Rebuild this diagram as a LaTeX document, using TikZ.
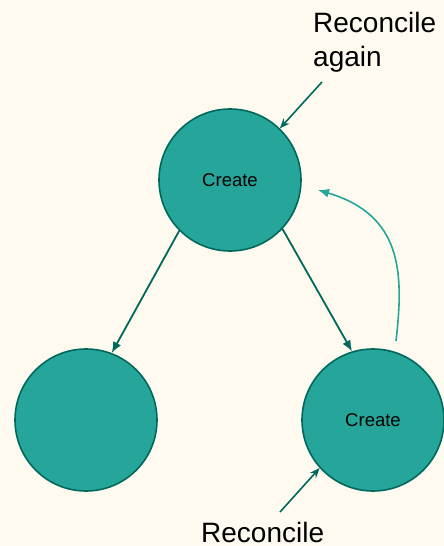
\documentclass[tikz,border=0pt]{standalone}
\usepackage{fontspec}
\setmainfont{Liberation Sans}
\usetikzlibrary{arrows.meta}
\definecolor{bg}{HTML}{FEFAEF}
\definecolor{tealfill}{HTML}{26A69A}
\definecolor{tealdark}{HTML}{00695C}
\tikzset{
  state/.style={circle, draw=tealdark, fill=tealfill, line width=1.6pt,
    minimum size=142pt, inner sep=0pt, font=\fontsize{18.5}{22}\selectfont},
  flow/.style={draw=tealdark, line width=1.8pt,
    -{Latex[length=11pt,width=9pt]}},
  loop/.style={draw=tealfill, line width=1.6pt,
    -{Latex[length=11pt,width=9pt]}},
  note/.style={draw=tealdark, line width=1.6pt,
    -{Stealth[length=10pt,width=8pt]}},
  label/.style={font=\fontsize{28}{34}\selectfont, inner sep=0pt, align=left}
}
\begin{document}
\begin{tikzpicture}[x=1pt, y=-1pt]
  \fill[bg] (0,0) rectangle (444,546);
  \useasboundingbox (0,0) rectangle (444,546);

  % the three objects
  \node[state] (top)   at (230,180) {Create};
  \node[state] (left)  at (86,420)  {};
  \node[state] (right) at (373,420) {Create};

  % creation edges
  \draw[flow] (top.225) -- (left.69);
  \draw[flow] (top.317) -- (right.107);

  % requeue loop back to the parent
  \coordinate (loopstart) at (396,341);
  \coordinate (loopend)   at (318,190);
  \draw[loop] (loopstart) .. controls (404,272) and (402,215) .. (loopend);

  % annotations
  \node[label, anchor=north west] (again) at (313,12) {Reconcile\\again};
  \coordinate (againtail) at (322,82);
  \draw[note] (againtail) -- (top.46);

  \node[label, anchor=base west] (rec) at (201,542) {Reconcile};
  \coordinate (rectail) at (280,512);
  \draw[note] (rectail) -- (right.222);
\end{tikzpicture}
\end{document}
